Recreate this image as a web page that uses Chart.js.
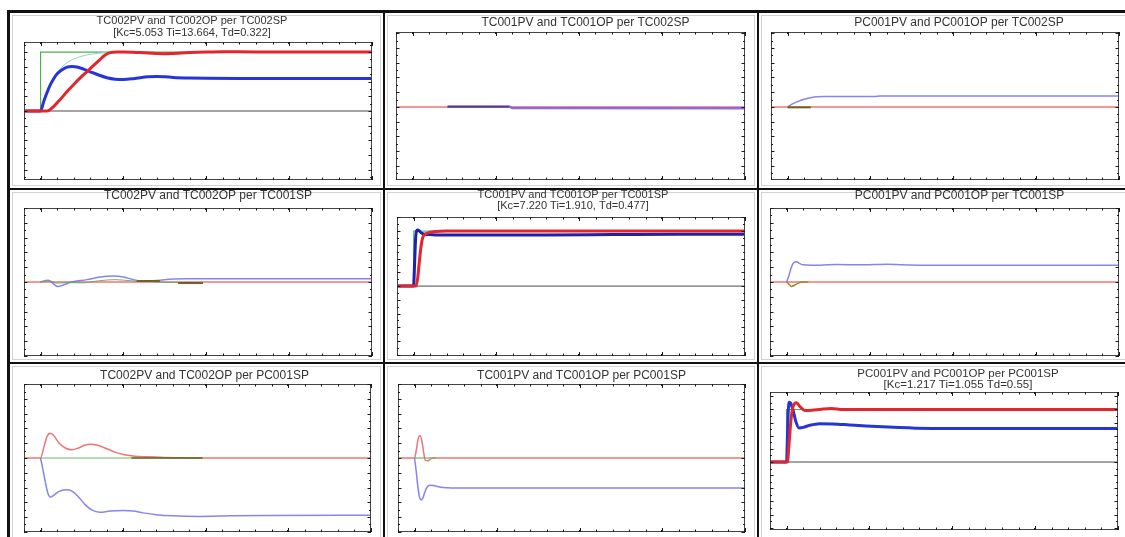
<!DOCTYPE html>
<html><head><meta charset="utf-8">
<script src="https://cdn.jsdelivr.net/npm/chart.js@4.4.1/dist/chart.umd.min.js"></script>
<style>
html,body{margin:0;padding:0;background:#fff;}
body{width:1125px;height:537px;position:relative;overflow:hidden;font-family:"Liberation Sans",Arial,sans-serif;}
.bar{position:absolute;background:#111;}
.cell{position:absolute;border:1px solid #d2d2d2;box-sizing:border-box;}
canvas{position:absolute;}
</style></head><body>
<div class="bar" style="left:7px;top:10px;width:3px;height:527px;"></div>
<div class="bar" style="left:7px;top:10px;width:1118px;height:3px;"></div>
<div class="bar" style="left:383px;top:13px;width:2px;height:524px;"></div>
<div class="bar" style="left:757px;top:13px;width:2px;height:524px;"></div>
<div class="bar" style="left:10px;top:188px;width:1115px;height:2px;"></div>
<div class="bar" style="left:10px;top:362px;width:1115px;height:2px;"></div>
<div class="cell" style="left:12px;top:15px;width:369px;height:171px;"></div>
<div class="cell" style="left:387px;top:15px;width:368px;height:171px;"></div>
<div class="cell" style="left:761px;top:15px;width:370px;height:171px;"></div>
<div class="cell" style="left:12px;top:192px;width:369px;height:168px;"></div>
<div class="cell" style="left:387px;top:192px;width:368px;height:168px;"></div>
<div class="cell" style="left:761px;top:192px;width:370px;height:168px;"></div>
<div class="cell" style="left:12px;top:366px;width:369px;height:180px;"></div>
<div class="cell" style="left:387px;top:366px;width:368px;height:180px;"></div>
<div class="cell" style="left:761px;top:366px;width:370px;height:180px;"></div>
<script>
// ---------- axis ticks ----------
const X_MIN = -1, X_MAX = 20;
const X_TICKS = [-1,0,1,2,3,4,5,6,7,8,9,10,11,12,13,14,15,16,17,18,19,20];
const X_MAJOR = [0,5,10,15,20];
const Y_MINOR_STEP = 0.125;
const Y_MAJOR_STEP = 0.25;

// ---------- Panel 1: TC002 per TC002SP ----------
const P1_SP_X = [-1,0,0,20];
const P1_SP_Y = [0,0,1,1];
const P1_PV_X = [-1,0,0.4,0.8,1.2,1.6,2.0,2.5,3.0,3.5,3.9,4.2,4.6,5.0,6.0,7.0,7.5,8.0,9.0,10,11,12,14,16,20];
const P1_PV_Y = [0,0,0,0.08,0.2,0.33,0.45,0.59,0.72,0.85,0.95,0.99,1.0,1.0,0.99,0.975,0.97,0.975,0.99,1.0,1.005,1.005,1.0,1.0,1.0];
const P1_OP_X = [-1,0,0.2,0.4,0.6,0.8,1.0,1.3,1.6,1.9,2.2,2.6,3.0,3.5,4.0,4.5,5.0,5.5,6.0,6.5,7.0,7.5,8.0,9.0,10,12,14,20];
const P1_OP_Y = [0,0,0.17,0.32,0.45,0.55,0.63,0.7,0.745,0.755,0.745,0.71,0.665,0.61,0.565,0.54,0.535,0.545,0.565,0.58,0.585,0.58,0.57,0.56,0.555,0.55,0.55,0.55];
const P1_MODEL_X = [0,0.3,0.6,1.0,1.5,2.0,2.5,3.0,3.5,4.0,5.0];
const P1_MODEL_Y = [0,0.26,0.47,0.65,0.8,0.88,0.93,0.96,0.98,0.99,1.0];

// ---------- Panel 2: TC001 per TC002SP ----------
const P2_PV_X = [-1,20];
const P2_PV_Y = [0,0];
const P2_OP_X = [2.1,5.8,6.0,20];
const P2_OP_Y = [0.005,0.005,-0.02,-0.025];
const P2_DK_X = [2.1,5.8];
const P2_DK_Y = [0.004,0.004];

// ---------- Panel 3: PC001 per TC002SP ----------
const P3_PV_X = [-1,20];
const P3_PV_Y = [0,0];
const P3_OP_X = [0,0.3,0.6,1.0,1.4,1.8,2.2,5.2,5.6,20];
const P3_OP_Y = [0,0.05,0.09,0.13,0.155,0.17,0.175,0.175,0.185,0.185];
const P3_DK_X = [0,1.4];
const P3_DK_Y = [-0.008,-0.008];

// ---------- Panel 4: TC002 per TC001SP ----------
const P4_PV_X = [-1,20];
const P4_PV_Y = [0,0];
const P4_OP_X = [0,0.45,1.05,1.85,2.8,3.6,4.4,5.0,5.6,6.2,7.0,8.0,8.8,10,20];
const P4_OP_Y = [0,0.03,-0.075,0,0.04,0.085,0.1,0.085,0.04,0.015,0.025,0.05,0.055,0.055,0.055];
const P4_GR_X = [0,0.5,1.0,1.6,2.5,3.5,4.5,5.5,6.5,7.5,8.5,9.8];
const P4_GR_Y = [0,0.02,-0.02,-0.01,-0.015,0.02,0.04,0.02,0.01,-0.005,-0.01,-0.01];
const P4_DK_X = [5.8,7.2,7.6,8.3,9.8];
const P4_DK_Y = [0.015,0.015,null,-0.015,-0.015];

// ---------- Panel 5: TC001 per TC001SP ----------
const P5_SP_X = [-1,0,0,20];
const P5_SP_Y = [0,0,1,1];
const P5_PV_X = [-1,0.15,0.25,0.35,0.45,0.55,0.7,0.9,1.2,1.6,2.0,20];
const P5_PV_Y = [0,0,0.15,0.45,0.72,0.88,0.94,0.97,0.985,0.995,1.0,1.0];
const P5_OP_X = [-1,0,0.06,0.12,0.18,0.25,0.35,0.5,0.7,1.0,1.5,2,4,8,12,16,20];
const P5_OP_Y = [0,0,0.4,0.85,1.0,1.02,1.0,0.96,0.94,0.935,0.93,0.93,0.93,0.93,0.935,0.94,0.94];

// ---------- Panel 6: PC001 per TC001SP ----------
const P6_PV_X = [-1,20];
const P6_PV_Y = [0,0];
const P6_OP_X = [0,0.15,0.3,0.45,0.6,0.8,1.0,1.5,2.0,3.0,4.5,6.0,7.0,8.0,20];
const P6_OP_Y = [0,0.12,0.26,0.33,0.34,0.31,0.29,0.285,0.285,0.295,0.29,0.3,0.29,0.285,0.285];
const P6_DK_X = [0,0.15,0.3,0.5,0.7,0.9,1.3];
const P6_DK_Y = [0,-0.04,-0.075,-0.05,-0.02,0,0];

// ---------- Panel 7: TC002 per PC001SP ----------
const P7_PV_X = [-1,0,0.2,0.4,0.6,0.8,1.1,1.5,1.9,2.3,2.7,3.0,3.4,3.9,4.5,5.0,5.6,6.5,7.5,8.5,9.8,20];
const P7_PV_Y = [0,0,0.18,0.37,0.42,0.38,0.26,0.17,0.14,0.17,0.22,0.235,0.22,0.17,0.1,0.06,0.035,0.02,0.01,0.005,0,0];
const P7_OP_X = [0,0.15,0.3,0.45,0.6,0.8,1.1,1.5,1.9,2.3,2.7,3.1,3.6,4.2,5.0,5.6,6.2,7.0,8.0,9.6,11.6,14,20];
const P7_OP_Y = [0,-0.2,-0.42,-0.6,-0.66,-0.63,-0.57,-0.54,-0.56,-0.66,-0.79,-0.88,-0.92,-0.9,-0.89,-0.9,-0.93,-0.96,-0.98,-0.99,-0.98,-0.975,-0.97];
const P7_GR_X = [0,9.8];
const P7_GR_Y = [0,0];
const P7_DK_X = [5.5,9.8];
const P7_DK_Y = [0,0];

// ---------- Panel 8: TC001 per PC001SP ----------
const P8_PV_X = [-1,0,0.1,0.2,0.33,0.45,0.55,0.65,0.8,1.0,1.2,20];
const P8_PV_Y = [0,0,0.12,0.3,0.38,0.28,0.1,-0.04,-0.045,-0.01,0,0];
const P8_OP_X = [0,0.1,0.2,0.3,0.4,0.5,0.65,0.8,0.95,1.2,1.6,2.0,2.4,20];
const P8_OP_Y = [0,-0.22,-0.48,-0.66,-0.71,-0.68,-0.56,-0.48,-0.46,-0.47,-0.495,-0.505,-0.51,-0.51];
const P8_GR_X = [0,1.3];
const P8_GR_Y = [0,0];

// ---------- Panel 9: PC001 per PC001SP ----------
const P9_SP_X = [-1,0,0,20];
const P9_SP_Y = [0,0,1,1];
const P9_PV_X = [-1,0.05,0.15,0.25,0.35,0.45,0.6,0.8,1.1,1.5,2.0,2.7,3.4,4,20];
const P9_PV_Y = [0,0,0.35,0.75,1.0,1.1,1.13,1.06,0.98,0.985,1.0,1.02,1.0,1.0,1.0];
const P9_OP_X = [-1,0,0.05,0.1,0.16,0.25,0.4,0.55,0.75,1.0,1.4,2.0,2.8,3.8,4.8,5.8,6.8,7.8,10,14,20];
const P9_OP_Y = [0,0,0.45,0.95,1.14,1.12,0.98,0.78,0.65,0.66,0.7,0.73,0.725,0.705,0.685,0.67,0.655,0.645,0.64,0.64,0.64];

const ZERO_X = [-1,20];
const ZERO_Y = [0,0];

// ---------- styles ----------
const RED_THICK = '#e3262c', BLUE_THICK = '#2535d8', BLUE_DARK = '#2020a8';
const GREEN_SP = '#4caf50', ZERO_C = '#4a4a4a', TEAL = '#8fd6c4';
const RED_THIN = 'rgba(236,92,92,0.85)', BLUE_THIN = 'rgba(112,112,236,0.85)';
const OLIVE = '#6e6326', GREEN_THIN = 'rgba(90,175,90,0.9)';

function line(xs, ys, color, width, smooth = true) {
  return {
    data: xs.map((x, i) => ({ x: x, y: ys[i] })),
    borderColor: color, borderWidth: width, pointRadius: 0, fill: false,
    cubicInterpolationMode: smooth ? 'monotone' : 'default', tension: 0, spanGaps: false
  };
}

const frameTicks = {
  id: 'frameTicks',
  afterDatasetsDraw(chart) {
    const { ctx, chartArea: a, scales } = chart;
    const x = scales.x, y = scales.y;
    ctx.save();
    ctx.strokeStyle = '#444'; ctx.lineWidth = 1;
    ctx.strokeRect(Math.round(a.left) + 0.5, Math.round(a.top) + 0.5,
      Math.round(a.right - a.left) - 1, Math.round(a.bottom - a.top) - 1);
    ctx.strokeStyle = '#1a1a1a';
    ctx.beginPath();
    X_TICKS.forEach(v => {
      const px = Math.round(x.getPixelForValue(v)) + 0.5;
      const len = X_MAJOR.includes(v) ? 4 : 2.5;
      ctx.moveTo(px, a.top); ctx.lineTo(px, a.top + len);
      ctx.moveTo(px, a.bottom); ctx.lineTo(px, a.bottom - len);
    });
    const n0 = Math.ceil(y.min / Y_MINOR_STEP), n1 = Math.floor(y.max / Y_MINOR_STEP);
    for (let n = n0; n <= n1; n++) {
      const v = n * Y_MINOR_STEP;
      const py = Math.round(y.getPixelForValue(v)) + 0.5;
      const major = Math.abs(v / Y_MAJOR_STEP - Math.round(v / Y_MAJOR_STEP)) < 1e-6;
      const len = major ? 3.5 : 2;
      ctx.moveTo(a.left, py); ctx.lineTo(a.left + len, py);
      ctx.moveTo(a.right, py); ctx.lineTo(a.right - len, py);
    }
    ctx.stroke();
    ctx.fillStyle = '#1a1a1a';
    X_MAJOR.forEach(v => {
      const px = Math.round(x.getPixelForValue(v));
      ctx.fillRect(px - 1, a.top, 2, 2);
      ctx.fillRect(px - 1, a.bottom - 2, 2, 2);
    });
    ctx.restore();
  }
};

function panel(spec, datasets, yMin, yMax) {
  const pad = 4;
  const dx = spec.dx || 0, ext = 2 * Math.abs(dx);
  const lh = spec.lh;
  const nl = spec.title.length;
  const cTop = Math.round(spec.ty - lh / 2);
  const cLeft = spec.L - pad - (dx < 0 ? ext : 0);
  const w = spec.R - spec.L + 2 * pad + ext;
  const h = spec.B - cTop + pad;
  const cv = document.createElement('canvas');
  cv.width = w; cv.height = h;
  cv.style.left = cLeft + 'px'; cv.style.top = cTop + 'px';
  cv.style.width = w + 'px'; cv.style.height = h + 'px';
  document.body.appendChild(cv);
  const scales = {
    x: { type: 'linear', min: X_MIN, max: X_MAX, display: false },
    y: { type: 'linear', min: yMin, max: yMax, display: false }
  };
  if (ext > 0) {
    scales.pad = {
      type: 'linear', axis: 'y', position: dx > 0 ? 'right' : 'left', display: true,
      ticks: { display: false }, grid: { display: false }, border: { display: false },
      afterFit: s => { s.width = ext; }
    };
  }
  new Chart(cv, {
    type: 'line',
    data: { datasets: datasets },
    options: {
      responsive: false, animation: false, devicePixelRatio: 1,
      layout: { padding: { left: pad, right: pad, top: 0, bottom: pad } },
      scales: scales,
      plugins: {
        legend: { display: false }, tooltip: { enabled: false },
        title: {
          display: true, text: spec.title, color: '#333333',
          font: { family: '"Liberation Sans", Arial, sans-serif', size: spec.fs, weight: 'normal', lineHeight: lh / spec.fs },
          padding: { top: 0, bottom: spec.T - cTop - nl * lh }
        }
      }
    },
    plugins: [frameTicks]
  });
}

// Panel 1
panel({ L: 24, R: 372, T: 42, B: 180, ty: 20.5, lh: 11.7, fs: 11, dx: -6,
  title: ['TC002PV and TC002OP per TC002SP', '[Kc=5.053 Ti=13.664, Td=0.322]'] },
  [line(P1_PV_X, P1_PV_Y, RED_THICK, 3), line(P1_OP_X, P1_OP_Y, BLUE_THICK, 3),
   line(P1_MODEL_X, P1_MODEL_Y, TEAL, 1), line(P1_SP_X, P1_SP_Y, GREEN_SP, 1.2, false),
   line(ZERO_X, ZERO_Y, ZERO_C, 1, false)], -1.17, 1.17);
// Panel 2
panel({ L: 396, R: 745, T: 32, B: 180, ty: 22.5, lh: 14, fs: 12, dx: 15,
  title: ['TC001PV and TC001OP per TC002SP'] },
  [line(P2_DK_X, P2_DK_Y, '#4a3f8c', 1.5), line(P2_OP_X, P2_OP_Y, 'rgba(135,100,220,0.95)', 2.5),
   line(P2_PV_X, P2_PV_Y, RED_THIN, 1.5, false)], -1.24, 1.27);
// Panel 3
panel({ L: 771, R: 1119, T: 32, B: 180, ty: 22.5, lh: 14, fs: 12, dx: 14,
  title: ['PC001PV and PC001OP per TC002SP'] },
  [line(P3_DK_X, P3_DK_Y, OLIVE, 2), line(P3_OP_X, P3_OP_Y, BLUE_THIN, 1.5),
   line(P3_PV_X, P3_PV_Y, RED_THIN, 1.5, false)], -1.24, 1.27);
// Panel 4
panel({ L: 24, R: 372, T: 208, B: 356, ty: 195.5, lh: 14, fs: 12, dx: 10,
  title: ['TC002PV and TC002OP per TC001SP'] },
  [line(P4_DK_X, P4_DK_Y, OLIVE, 2), line(P4_GR_X, P4_GR_Y, GREEN_THIN, 1),
   line(P4_OP_X, P4_OP_Y, BLUE_THIN, 1.5), line(P4_PV_X, P4_PV_Y, RED_THIN, 1.5, false)], -1.25, 1.25);
// Panel 5
panel({ L: 397, R: 745, T: 217, B: 356, ty: 195.5, lh: 10.5, fs: 11, dx: 2,
  title: ['TC001PV and TC001OP per TC001SP', '[Kc=7.220 Ti=1.910, Td=0.477]'] },
  [line(P5_PV_X, P5_PV_Y, RED_THICK, 3), line(P5_OP_X, P5_OP_Y, BLUE_DARK, 3),
   line(P5_SP_X, P5_SP_Y, '#5ab8a8', 1.2, false), line(ZERO_X, ZERO_Y, ZERO_C, 1, false)], -1.27, 1.255);
// Panel 6
panel({ L: 770, R: 1119, T: 208, B: 356, ty: 195.5, lh: 14, fs: 12, dx: 15,
  title: ['PC001PV and PC001OP per TC001SP'] },
  [line(P6_DK_X, P6_DK_Y, '#a8822e', 1.5), line(P6_OP_X, P6_OP_Y, BLUE_THIN, 1.5),
   line(P6_PV_X, P6_PV_Y, RED_THIN, 1.5, false)], -1.25, 1.25);
// Panel 7
panel({ L: 24, R: 371, T: 384, B: 532, ty: 375.5, lh: 14, fs: 12, dx: 7,
  title: ['TC002PV and TC002OP per PC001SP'] },
  [line(P7_DK_X, P7_DK_Y, OLIVE, 1.5, false), line(P7_GR_X, P7_GR_Y, GREEN_THIN, 1.2, false),
   line(P7_OP_X, P7_OP_Y, BLUE_THIN, 1.5), line(P7_PV_X, P7_PV_Y, RED_THIN, 1.5)], -1.254, 1.254);
// Panel 8
panel({ L: 398, R: 745, T: 384, B: 532, ty: 375.5, lh: 14, fs: 12, dx: 10,
  title: ['TC001PV and TC001OP per PC001SP'] },
  [line(P8_GR_X, P8_GR_Y, GREEN_THIN, 1.2, false), line(P8_OP_X, P8_OP_Y, BLUE_THIN, 1.5),
   line(P8_PV_X, P8_PV_Y, RED_THIN, 1.5)], -1.254, 1.254);
// Panel 9
panel({ L: 770, R: 1118, T: 392, B: 530, ty: 374, lh: 10.5, fs: 11.5, dx: 14,
  title: ['PC001PV and PC001OP per PC001SP', '[Kc=1.217 Ti=1.055 Td=0.55]'] },
  [line(P9_PV_X, P9_PV_Y, RED_THICK, 3), line(P9_OP_X, P9_OP_Y, BLUE_THICK, 3),
   line(P9_SP_X, P9_SP_Y, GREEN_SP, 1.2, false), line(ZERO_X, ZERO_Y, ZERO_C, 1, false)], -1.294, 1.333);
</script>
</body></html>
